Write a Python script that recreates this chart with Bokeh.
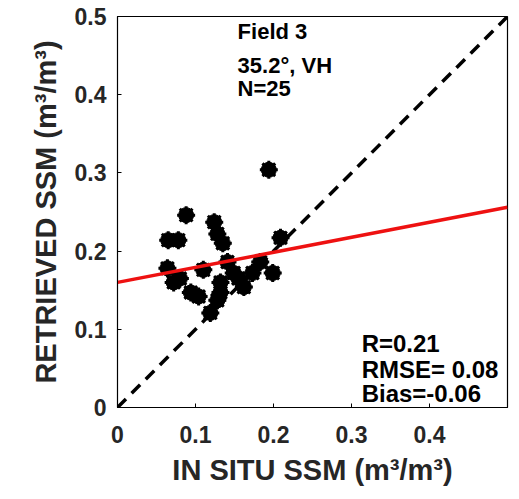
from bokeh.plotting import figure
from bokeh.models import Label, Range1d, FixedTicker
from bokeh.embed import file_html
from bokeh.resources import INLINE

# Data
insitu = [0.194, 0.088, 0.124, 0.065, 0.078, 0.128, 0.135, 0.209, 0.064, 0.072,
          0.094, 0.110, 0.132, 0.128, 0.119, 0.141, 0.149, 0.173, 0.183, 0.199,
          0.162, 0.132, 0.080, 0.104, 0.155]
retrieved = [0.304, 0.246, 0.237, 0.214, 0.214, 0.222, 0.210, 0.217, 0.178, 0.160,
             0.147, 0.176, 0.160, 0.137, 0.121, 0.186, 0.172, 0.172, 0.186, 0.172,
             0.154, 0.147, 0.165, 0.142, 0.165]
fit_x = [0.0, 0.5]
fit_y = [0.160, 0.256]
one_to_one = [0.0, 0.5]
x_ticks = [0, 0.1, 0.2, 0.3, 0.4]
y_ticks = [0, 0.1, 0.2, 0.3, 0.4, 0.5]
x_tick_labels = {0: "0", 0.1: "0.1", 0.2: "0.2", 0.3: "0.3", 0.4: "0.4"}
y_tick_labels = {0: "0", 0.1: "0.1", 0.2: "0.2", 0.3: "0.3", 0.4: "0.4", 0.5: "0.5"}
info_top = ["Field 3", "35.2\u00b0, VH", "N=25"]
info_bottom = ["R=0.21", "RMSE= 0.08", "Bias=-0.06"]

FONT = "Liberation Sans"
GRAY = "#262626"

p = figure(width=519, height=499, output_backend="svg", toolbar_location=None,
           x_range=Range1d(0, 0.5), y_range=Range1d(0, 0.5),
           min_border_left=117, min_border_right=12, min_border_top=16,
           min_border_bottom=92)
p.outline_line_color = "black"
p.outline_line_width = 1.2
p.grid.visible = False
p.background_fill_color = "white"
p.border_fill_color = "white"

for ax, ticks, labels in ((p.xaxis[0], x_ticks, x_tick_labels), (p.yaxis[0], y_ticks, y_tick_labels)):
    ax.ticker = FixedTicker(ticks=ticks)
    ax.major_label_overrides = labels
    ax.minor_tick_line_color = None
    ax.major_tick_in = 4
    ax.major_tick_out = 0
    ax.axis_line_color = "black"
    ax.major_tick_line_color = "black"
    ax.major_label_text_font = FONT
    ax.major_label_text_font_style = "bold"
    ax.major_label_text_font_size = "23px"
    ax.major_label_text_color = GRAY
    ax.axis_label_text_font = FONT
    ax.axis_label_text_font_style = "bold"
    ax.axis_label_text_font_size = "29px"
    ax.axis_label_text_color = GRAY

p.xaxis.axis_label = "IN SITU SSM (m\u00b3/m\u00b3)"
p.yaxis.axis_label = "RETRIEVED SSM (m\u00b3/m\u00b3)"
p.xaxis.major_label_standoff = 18
p.xaxis.axis_label_standoff = 8
p.yaxis.major_label_standoff = 11
p.yaxis.axis_label_standoff = 10

p.line(one_to_one, one_to_one, line_color="black", line_width=3.5, line_dash="12 8")
p.scatter(insitu, retrieved, marker="circle", size=15, fill_color="black", line_color="black")
p.scatter(insitu, retrieved, marker="asterisk", size=18, line_color="black", line_width=3)
p.line(fit_x, fit_y, line_color="#ee1111", line_width=3.5)

ys_top = [0.481, 0.437, 0.408]
for t, yy in zip(info_top, ys_top):
    p.add_layout(Label(x=0.154, y=yy, text=t, text_font=FONT, text_font_style="bold",
                       text_font_size="22px", text_color="black", text_baseline="middle"))
ys_bot = [0.082, 0.049, 0.018]
for t, yy in zip(info_bottom, ys_bot):
    p.add_layout(Label(x=0.313, y=yy, text=t, text_font=FONT, text_font_style="bold",
                       text_font_size="24px", text_color="black", text_baseline="middle"))

open("out.html", "w").write(file_html(p, INLINE))
